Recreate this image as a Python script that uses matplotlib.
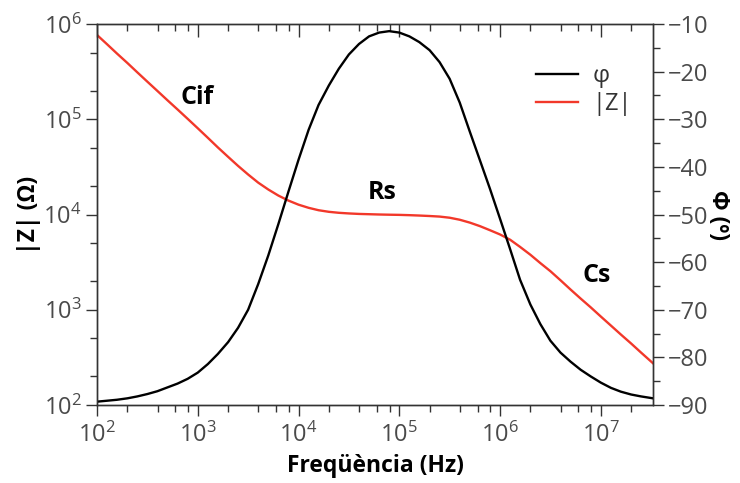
import matplotlib
matplotlib.use('Agg')
import matplotlib.pyplot as plt
from matplotlib.ticker import LogLocator, MultipleLocator, NullFormatter

plt.rcParams['font.family'] = ['Open Sans', 'DejaVu Sans']
plt.rcParams['mathtext.fontset'] = 'custom'
plt.rcParams['mathtext.rm'] = 'Open Sans'
plt.rcParams['mathtext.it'] = 'Open Sans:italic'
plt.rcParams['mathtext.bf'] = 'Open Sans:bold'

# frequency (Hz)
freq = [100, 126, 158, 200, 251, 316, 398, 501, 631, 794,
        1000, 1260, 1580, 2000, 2510, 3160, 3980, 5010, 6310, 7940,
        1e4, 1.26e4, 1.58e4, 2e4, 2.51e4, 3.16e4, 3.98e4, 5.01e4, 6.31e4, 7.94e4,
        1e5, 1.26e5, 1.58e5, 2e5, 2.51e5, 3.16e5, 3.98e5, 5.01e5, 6.31e5, 7.94e5,
        1e6, 1.26e6, 1.58e6, 2e6, 2.51e6, 3.16e6, 3.98e6, 5.01e6, 6.31e6, 7.94e6,
        1e7, 1.26e7, 1.58e7, 2e7, 2.51e7, 3.3e7]
# phase (deg)
phase = [-89.3, -89.1, -88.9, -88.6, -88.2, -87.7, -87.1, -86.3, -85.5, -84.5,
         -83.2, -81.4, -79.3, -76.8, -73.8, -70.0, -64.6, -58.6, -52.0, -45.2,
         -38.5, -32.2, -27.0, -22.9, -19.4, -16.4, -14.2, -12.6, -11.8, -11.5,
         -11.8, -12.6, -13.8, -15.5, -18.0, -21.5, -26.5, -32.6, -38.6, -44.6,
         -50.9, -57.3, -63.7, -68.9, -73.0, -76.5, -79.0, -80.9, -82.6, -84.0,
         -85.3, -86.4, -87.2, -87.8, -88.2, -88.6]
# |Z| (ohm)
zmod = [767000, 612000, 489000, 390000, 311000, 248000, 198000, 158000, 126500, 101000,
        80400, 63800, 50700, 40300, 32400, 26300, 21600, 18300, 15800, 14000,
        12680, 11750, 11090, 10670, 10420, 10260, 10140, 10070, 10000, 9950,
        9910, 9840, 9750, 9640, 9510, 9250, 8810, 8220, 7550, 6840,
        6170, 5430, 4570, 3780, 3090, 2540, 2040, 1630, 1310, 1060,
        849, 682, 550, 442, 355, 274]

red = '#f2382a'
grey = '#4a4a4a'
dark = '#333333'

fig = plt.figure(figsize=(7.4, 4.83), dpi=100)
ax = fig.add_axes([0.1311, 0.1615, 0.7514, 0.7888])
ax2 = ax.twinx()

lz, = ax.plot(freq, zmod, color=red, lw=1.7, label='|Z|')
lp, = ax2.plot(freq, phase, color='black', lw=1.7, label='φ')

ax.set_xscale('log')
ax.set_yscale('log')
ax.set_xlim(100, 3.3e7)
ax.set_ylim(1e2, 1e6)
ax2.set_ylim(-90, -10)

ax.xaxis.set_major_locator(LogLocator(base=10, numticks=20))
ax.xaxis.set_minor_locator(LogLocator(base=10, subs=[2, 4, 6, 8], numticks=20))
ax.xaxis.set_minor_formatter(NullFormatter())
ax.yaxis.set_major_locator(LogLocator(base=10, numticks=20))
ax.yaxis.set_minor_locator(LogLocator(base=10, subs=[2, 5], numticks=20))
ax.yaxis.set_minor_formatter(NullFormatter())
ax2.yaxis.set_major_locator(MultipleLocator(10))
ax2.yaxis.set_minor_locator(MultipleLocator(5))

for a in (ax, ax2):
    a.tick_params(which='major', length=8, width=1, direction='out',
                  labelsize=17, labelcolor=grey, color=dark, pad=3)
    a.tick_params(which='minor', length=5, width=1, direction='out', color=dark)
    for s in a.spines.values():
        s.set_color(dark)
        s.set_linewidth(1)
ax.tick_params(axis='x', which='major', pad=5)

# inward ticks along the top edge
ax2.xaxis.set_visible(True)
ax2.tick_params(axis='x', which='both', direction='in', top=True, bottom=False,
                labeltop=False, labelbottom=False, color=dark, width=1)
ax2.tick_params(axis='x', which='major', length=9)
ax2.tick_params(axis='x', which='minor', length=5)

ax.set_xlabel('Freqüència (Hz)', fontsize=16.5, fontweight='bold', labelpad=4)
ax.set_ylabel('|Z| (Ω)', fontsize=16.5, fontweight='bold', labelpad=2)
ax2.set_ylabel('Φ (º)', fontsize=16.5, fontweight='bold', rotation=270, labelpad=15)

ax.text(980, 1.71e5, 'Cif', fontsize=18, fontweight='bold', ha='center', va='center')
ax.text(6.8e4, 1.72e4, 'Rs', fontsize=18, fontweight='bold', ha='center', va='center')
ax.text(9.1e6, 2.3e3, 'Cs', fontsize=18, fontweight='bold', ha='center', va='center')

leg = ax.legend([lp, lz], ['φ', '|Z|'], loc='upper right', bbox_to_anchor=(1.0, 0.95),
                frameon=False, fontsize=17, handlelength=1.8, labelspacing=0.15,
                handletextpad=0.6)
for t in leg.get_texts():
    t.set_color(dark)

fig.savefig('out.png', dpi=100)
